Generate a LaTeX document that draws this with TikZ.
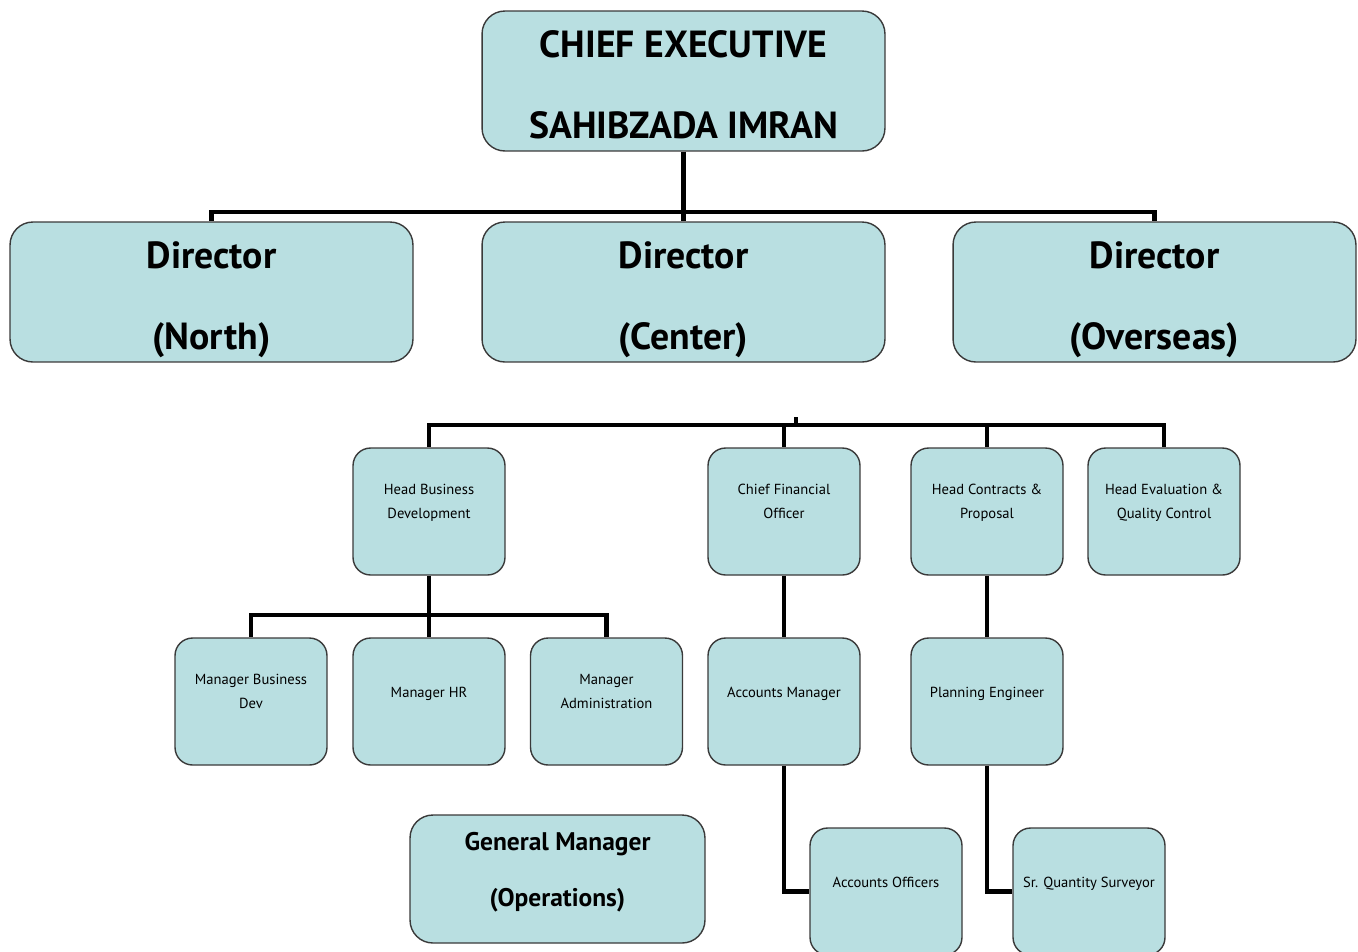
\documentclass[tikz,border=0pt]{standalone}
\usepackage{fontspec}
\setmainfont{PT Sans}
\definecolor{boxfill}{HTML}{B9DFE1}
\definecolor{boxline}{HTML}{3A3A3A}

\begin{document}
\begin{tikzpicture}[x=0.02cm,y=-0.02cm,
 bigbox/.style={draw=boxline,fill=boxfill,line width=.8pt,rounded corners=13pt,align=center,minimum width=8.06cm,minimum height=2.8cm,inner sep=2pt,text height=66pt,text depth=0pt,font=\fontsize{21.5}{46.5}\selectfont\bfseries},
 smallbox/.style={draw=boxline,fill=boxfill,line width=.8pt,rounded corners=10pt,align=center,minimum width=3.04cm,minimum height=2.54cm,inner sep=1pt,text height=7.4pt,text depth=0pt,font=\fontsize{8.3}{13.3}\selectfont},
 oneline/.style={text height=0pt,text depth=4.5pt},
 link/.style={line width=2.6pt}]
\useasboundingbox (0,0) rectangle (1358,951);
\clip (0,0) rectangle (1358,951);
\node[bigbox] (ceo) at (683.5,81) {CHIEF EXECUTIVE\\SAHIBZADA IMRAN};
\node[bigbox] (dn) at (211.5,292) {Director\\(North)};
\node[bigbox] (dc) at (683.5,292) {Director\\(Center)};
\node[bigbox] (do) at (1154.5,292) {Director\\(Overseas)};
\node[smallbox] (hbd) at (429,511.5) {Head Business\\Development};
\node[smallbox] (cfo) at (784,511.5) {Chief Financial\\Officer};
\node[smallbox] (hcp) at (987,511.5) {Head Contracts \&\\Proposal};
\node[smallbox] (hec) at (1164,511.5) {Head Evaluation \&\\Quality Control};
\node[smallbox] (mbd) at (251,701.5) {Manager Business\\Dev};
\node[smallbox,oneline] (mhr) at (429,701.5) {Manager HR};
\node[smallbox] (mad) at (606.5,701.5) {Manager\\Administration};
\node[smallbox,oneline] (acm) at (784,701.5) {Accounts Manager};
\node[smallbox,oneline] (pln) at (987,701.5) {Planning Engineer};
\node[smallbox,oneline] (aco) at (886,891.5) {Accounts Officers};
\node[smallbox,oneline] (sqs) at (1089,891.5) {Sr. Quantity Surveyor};
\node[bigbox,minimum width=5.9cm,minimum height=2.56cm,text height=31.7pt,font=\fontsize{14.5}{32}\selectfont\bfseries] (gmo) at (557.5,879) {General Manager\\(Operations)};
\coordinate (ceobus) at (683.5,212);
\draw[link] (ceo.south) -- (ceobus);
\draw[link] (ceobus) -| (dn.north);
\draw[link] (ceobus) -- (dc.north);
\draw[link] (ceobus) -| (do.north);
\coordinate (stub) at (796,417);
\coordinate (hqbus) at (796,425);
\draw[link] (stub) -- (hqbus);
\draw[link] (hqbus) -| (hbd.north);
\draw[link] (hqbus) -| (cfo.north);
\draw[link] (hqbus) -| (hcp.north);
\draw[link] (hqbus) -| (hec.north);
\coordinate (bdbus) at (429,615);
\draw[link] (hbd.south) -- (bdbus);
\draw[link] (bdbus) -| (mbd.north);
\draw[link] (bdbus) -- (mhr.north);
\draw[link] (bdbus) -| (mad.north);
\draw[link] (cfo) -- (acm);
\draw[link] (hcp) -- (pln);
\draw[link] (acm.south) |- (aco.west);
\draw[link] (pln.south) |- (sqs.west);
\end{tikzpicture}
\end{document}
